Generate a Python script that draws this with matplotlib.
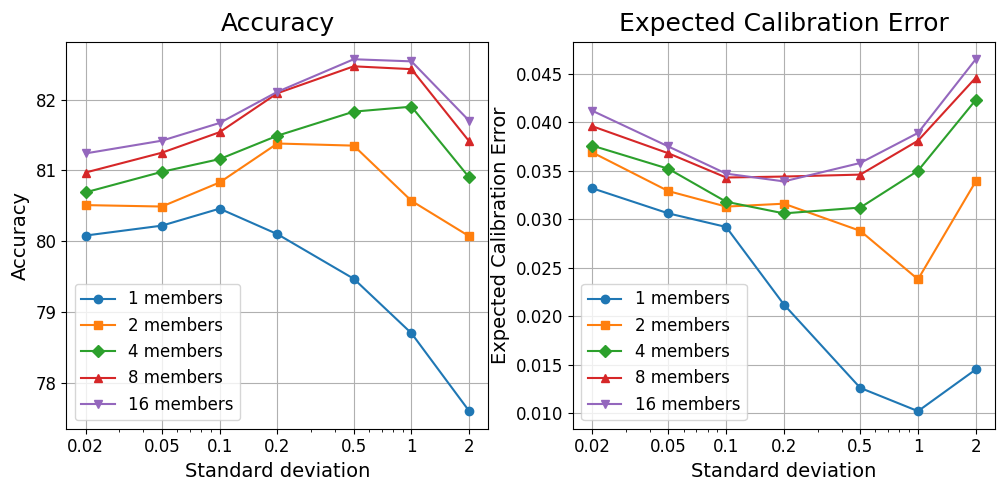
import numpy as np
import matplotlib
matplotlib.use("Agg")
import matplotlib.pyplot as plt

std_devs = [0.02, 0.05, 0.1, 0.2, 0.5, 1, 2]
tick_labels = ["0.02", "0.05", "0.1", "0.2", "0.5", "1", "2"]
members = [1, 2, 4, 8, 16]
markers = ["o", "s", "D", "^", "v"]

accuracy = {
    1: [80.08, 80.22, 80.46, 80.10, 79.47, 78.70, 77.60],
    2: [80.51, 80.49, 80.83, 81.38, 81.35, 80.57, 80.07],
    4: [80.69, 80.98, 81.16, 81.49, 81.83, 81.90, 80.90],
    8: [80.97, 81.25, 81.54, 82.09, 82.47, 82.43, 81.41],
    16: [81.24, 81.42, 81.67, 82.11, 82.57, 82.54, 81.70],
}

ece = {
    1: [0.0332, 0.0306, 0.0292, 0.0212, 0.0126, 0.0102, 0.0145],
    2: [0.0369, 0.0329, 0.0313, 0.0316, 0.0288, 0.0238, 0.0339],
    4: [0.0376, 0.0352, 0.0318, 0.0306, 0.0312, 0.0350, 0.0423],
    8: [0.0396, 0.0368, 0.0343, 0.0344, 0.0346, 0.0381, 0.0446],
    16: [0.0412, 0.0375, 0.0347, 0.0339, 0.0358, 0.0389, 0.0465],
}

fig, axes = plt.subplots(1, 2, figsize=(10.05, 4.9), dpi=100)

for ax, data, title in zip(axes, [accuracy, ece], ["Accuracy", "Expected Calibration Error"]):
    for m, mk in zip(members, markers):
        ax.plot(std_devs, data[m], marker=mk, label=f"{m} members")
    ax.set_xscale("log")
    ax.set_xticks(std_devs)
    ax.set_xticklabels(tick_labels)
    ax.set_title(title, fontsize=18, pad=8)
    ax.set_xlabel("Standard deviation", fontsize=14)
    ax.set_ylabel(title, fontsize=14)
    ax.tick_params(axis="both", which="major", labelsize=12)
    ax.grid()
    ax.legend(loc="lower left", fontsize=12)

axes[1].set_yticks([0.010, 0.015, 0.020, 0.025, 0.030, 0.035, 0.040, 0.045])
axes[1].set_yticklabels([f"{v:.3f}" for v in [0.010, 0.015, 0.020, 0.025, 0.030, 0.035, 0.040, 0.045]])

plt.subplots_adjust(left=0.066, right=0.99, bottom=0.125, top=0.915, wspace=0.2)
plt.savefig("out.png")
plt.close()
